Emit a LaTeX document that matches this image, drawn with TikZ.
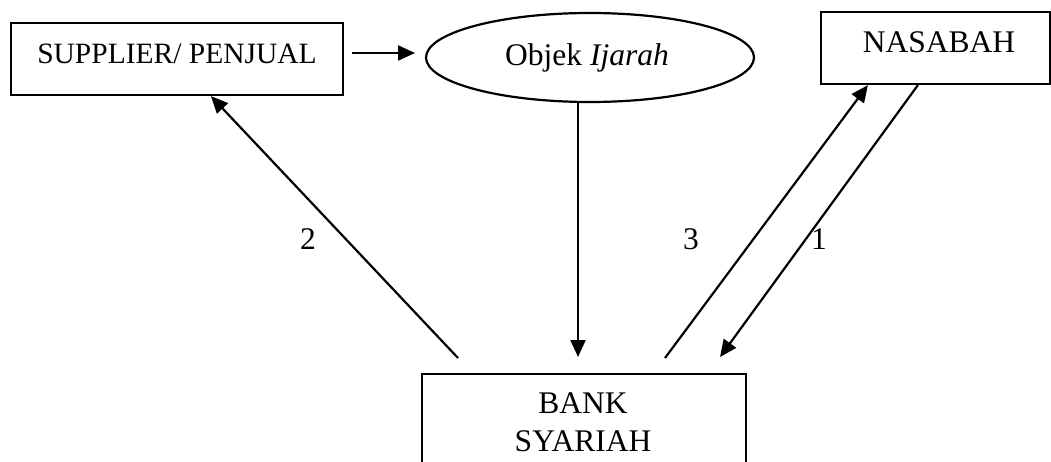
\documentclass[tikz,border=0pt]{standalone}
\usepackage{fontspec}
\setmainfont{Liberation Serif}
\usetikzlibrary{arrows.meta,shapes.geometric,calc}

\begin{document}
\begin{tikzpicture}[x=1pt,y=-1pt,
  line width=2.2pt,
  box/.style={draw, rectangle, inner sep=0pt},
  oval/.style={draw, ellipse, inner sep=0pt},
  lbl/.style={inner sep=0pt, anchor=base, font=\fontsize{31.5}{38}\selectfont},
  flow/.style={-{Triangle[length=17pt,width=15pt]}}
]
% canvas
\fill[white] (0,0) rectangle (1051,462);
\useasboundingbox (0,0) rectangle (1051,462);

% boxes and oval
\node[box, minimum width=332pt, minimum height=72pt] (sup) at (177,59) {};
\node[oval, minimum width=328pt, minimum height=89pt] (obj) at (590,57.5) {};
\node[box, minimum width=229pt, minimum height=72pt] (nas) at (935.5,48) {};
\node[box, minimum width=324pt, minimum height=110pt, anchor=north] (bank) at (584,373) {};

% texts
\node[lbl, font=\fontsize{29.5}{36}\selectfont] (suptxt) at (177,64) {SUPPLIER/ PENJUAL};
\node[lbl] (objtxt) at (587,66) {Objek \textit{Ijarah}};
\node[lbl] (nastxt) at (939,53) {NASABAH};
\node[lbl] (banktxt1) at (583,413) {BANK};
\node[lbl] (banktxt2) at (583,451) {SYARIAH};

% step numbers
\node[lbl] (n2) at (308,250) {2};
\node[lbl] (n3) at (691,250) {3};
\node[lbl] (n1) at (819,250) {1};

% connector ends
\coordinate (supout) at (352,53);
\coordinate (objin) at (415,53);
\coordinate (objdown) at ($(obj.south)+(-12,0)$);
\coordinate (bankin) at (578,357);
\coordinate (bank2) at (458,358);
\coordinate (sup2) at ($(sup.south west)+(201,0)$);
\coordinate (bank3) at (665,358);
\coordinate (nas3) at ($(nas.south west)+(48,0)$);
\coordinate (nas1) at ($(nas.south west)+(98,0)$);
\coordinate (bank1) at (720,357);

% flows
\draw[flow] (supout) -- (objin);
\draw[flow] (objdown) -- (bankin);
\draw[flow] (bank2) -- (sup2);
\draw[flow] (bank3) -- (nas3);
\draw[flow] (nas1) -- (bank1);
\end{tikzpicture}
\end{document}
